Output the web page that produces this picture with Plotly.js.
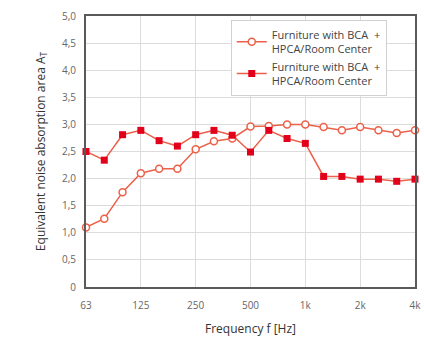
<!DOCTYPE html>
<html>
<head>
<meta charset="utf-8">
<script src="https://cdn.plot.ly/plotly-3.0.1.min.js"></script>
<style>html,body{margin:0;padding:0;background:#fff;}#chart{width:424px;height:342px;}</style>
</head>
<body>
<div id="chart"></div>
<script>
const frequencies = ["63","80","100","125","160","200","250","315","400","500","630","800","1k","1.25k","1.6k","2k","2.5k","3.15k","4k"];
const circleSeries = [1.1,1.26,1.75,2.1,2.18,2.18,2.54,2.69,2.74,2.96,2.97,3.0,3.0,2.95,2.89,2.95,2.89,2.84,2.89];
const squareSeries = [2.5,2.34,2.81,2.89,2.7,2.6,2.81,2.89,2.8,2.49,2.89,2.74,2.65,2.04,2.04,1.99,1.99,1.95,1.99];
const seriesNames = ["Furniture with BCA  +<br>HPCA/Room Center","Furniture with BCA  +<br>HPCA/Room Center"];
const xTickIdx = [0,3,6,9,12,15,18];
const xTickText = ["63","125","250","500","1k","2k","4k"];
const yTickVals = [0,0.5,1,1.5,2,2.5,3,3.5,4,4.5,5];
const yTickText = ["0","0,5","1,0","1,5","2,0","2,5","3,0","3,5","4,0","4,5","5,0"];

const xIdx = frequencies.map((f,i)=>i);
const lineColor = '#ec6049';
const traces = [
  {x:xIdx, y:circleSeries, name:seriesNames[0], type:'scatter', mode:'lines+markers', cliponaxis:false,
   line:{color:lineColor,width:1.5},
   marker:{symbol:'circle',size:7,color:'#ffffff',line:{color:lineColor,width:1.5}}},
  {x:xIdx, y:squareSeries, name:seriesNames[1], type:'scatter', mode:'lines+markers', cliponaxis:false,
   line:{color:lineColor,width:1.5},
   marker:{symbol:'square',size:7,color:'#e3001b',line:{color:'#e3001b',width:0}}}
];
const layout = {
  width:424, height:342,
  margin:{l:86,r:9,t:16,b:55},
  paper_bgcolor:'#fff', plot_bgcolor:'#fff',
  font:{family:'"Open Sans", sans-serif', color:'#444', size:11},
  showlegend:true,
  legend:{x:0.44, y:0.985, xanchor:'left', yanchor:'top', bgcolor:'#fff', bordercolor:'#d0d0d0', borderwidth:1,
          font:{size:11, color:'#444'}, tracegroupgap:2, itemwidth:30},
  xaxis:{range:[0,18], tickvals:xTickIdx, ticktext:xTickText, showgrid:true, gridcolor:'#dcdcdc', gridwidth:1,
         showline:true, mirror:true, linecolor:'#5a5a5a', linewidth:2, ticks:'outside', ticklen:8, tickcolor:'rgba(0,0,0,0)',
         tickfont:{size:10,color:'#666'}, zeroline:false,
         title:{text:'Frequency f [Hz]', font:{size:12,color:'#333'}, standoff:14}},
  yaxis:{range:[0,5], tickvals:yTickVals, ticktext:yTickText, showgrid:true, gridcolor:'#dcdcdc', gridwidth:1,
         showline:true, mirror:true, linecolor:'#5a5a5a', linewidth:2, ticks:'outside', ticklen:6, tickcolor:'rgba(0,0,0,0)',
         tickfont:{size:10,color:'#666'}, zeroline:false,
         title:{text:'Equivalent noise absorption area A<sub>T</sub>', font:{size:12,color:'#333'}, standoff:14}}
};
Plotly.newPlot('chart', traces, layout, {displayModeBar:false, staticPlot:true});
</script>
</body>
</html>
